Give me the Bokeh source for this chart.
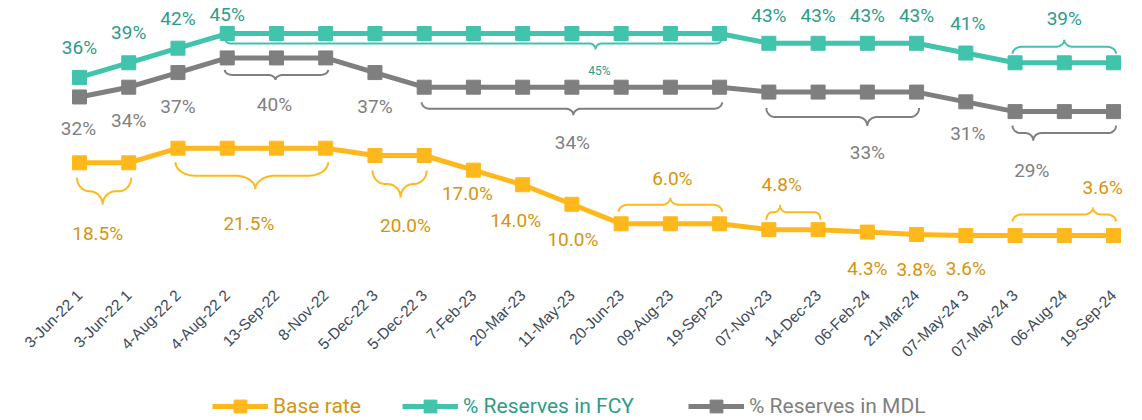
import numpy as np
from bokeh.plotting import figure
from bokeh.layouts import column
from bokeh.models import Range1d, FixedTicker, Legend, LegendItem
from bokeh.embed import file_html
from bokeh.resources import INLINE
from bokeh.core.properties import value

# ---------------- data ----------------
dates = ["3-Jun-22", "3-Jun-22", "4-Aug-22", "4-Aug-22", "13-Sep-22", "8-Nov-22",
         "5-Dec-22", "5-Dec-22", "7-Feb-23", "20-Mar-23", "11-May-23", "20-Jun-23",
         "09-Aug-23", "19-Sep-23", "07-Nov-23", "14-Dec-23", "06-Feb-24", "21-Mar-24",
         "07-May-24", "07-May-24", "06-Aug-24", "19-Sep-24"]
footnotes = ["1", "1", "2", "2", "", "", "3", "3", "", "", "", "", "", "", "", "", "", "",
             "3", "3", "", ""]
base_rate = [18.5, 18.5, 21.5, 21.5, 21.5, 21.5, 20.0, 20.0, 17.0, 14.0, 10.0, 6.0, 6.0, 6.0,
             4.8, 4.8, 4.3, 3.8, 3.6, 3.6, 3.6, 3.6]
res_fcy = [36, 39, 42, 45, 45, 45, 45, 45, 45, 45, 45, 45, 45, 45, 43, 43, 43, 43, 41, 39, 39, 39]
res_mdl = [32, 34, 37, 40, 40, 40, 37, 34, 34, 34, 34, 34, 34, 34, 33, 33, 33, 33, 31, 29, 29, 29]
series_names = ["Base rate", "% Reserves in FCY", "% Reserves in MDL"]

# ---------------- style ----------------
W, H = 1140, 378
ML, MR, MT, MB = 28, 8, 0, 95
LEG_H = 40
CAT_PX = 49.24          # px per category step
FIRST_PX = 51           # px from frame left to first category
Y_PX = 4.879            # px per percentage point
Y_TOP = 51.77

frame_w = W - ML - MR
frame_h = H - MT - MB
x_start = -FIRST_PX / CAT_PX
x_end = x_start + frame_w / CAT_PX
y_end = Y_TOP
y_start = Y_TOP - frame_h / Y_PX
sx, sy = CAT_PX, Y_PX

line_col = {"base": "#FFB81C", "fcy": "#41C3AC", "mdl": "#7F7F7F"}
text_col = {"base": "#D6940E", "fcy": "#2E9C88", "mdl": "#808080"}
series = {"base": base_rate, "fcy": res_fcy, "mdl": res_mdl}
fmt = {"base": "{:.1f}%", "fcy": "{:.0f}%", "mdl": "{:.0f}%"}
FONT = "Roboto"

# individual point labels: (series, index, dx px, dy px (screen down))
point_labels = [
    ("fcy", 0, 0, -30), ("fcy", 1, 0, -30), ("fcy", 2, 0, -30), ("fcy", 3, 0, -19),
    ("fcy", 14, 0, -28), ("fcy", 15, 0, -28), ("fcy", 16, 0, -28), ("fcy", 17, 0, -28),
    ("fcy", 18, 2, -30),
    ("mdl", 0, -1, 32), ("mdl", 1, 0, 33), ("mdl", 2, 0, 34), ("mdl", 6, 0, 34),
    ("mdl", 18, 2, 32),
    ("base", 8, -6, 23), ("base", 9, -7, 36), ("base", 10, 1, 35),
    ("base", 16, 0, 36), ("base", 17, 0, 35), ("base", 18, 0, 33),
]

# bracket groups: (series, i0, i1, dir(+1 down/-1 up), end_off, depth, tip_idx, r, label_idx, label_off, font px)
groups = [
    ("base", 0, 1, 1, 15, 27, 0.47, 13, 0.37, 71, 19),
    ("base", 2, 5, 1, 14, 27, 3.57, 20, 3.44, 75, 19),
    ("base", 6, 7, 1, 15, 27, 6.52, 13, 6.62, 70, 19),
    ("base", 11, 13, -1, 12, 14, 12.0, 9, 12.04, 45, 19),
    ("base", 14, 15, -1, 10, 15, 14.23, 6, 14.26, 45, 19),
    ("base", 19, 21, -1, 14, 14, 20.58, 9, 20.78, 48, 19),
    ("fcy", 3, 13, 1, 4, 12, 10.48, 6, 10.56, 37, 12),
    ("fcy", 19, 21, -1, 9, 14, 20.0, 9, 20.0, 44, 19),
    ("mdl", 3, 5, 1, 12, 10, 3.98, 8, 3.96, 47, 19),
    ("mdl", 7, 13, 1, 15, 13, 10.03, 8, 10.01, 55, 19),
    ("mdl", 14, 17, 1, 16, 18, 16.0, 9, 16.0, 60, 19),
    ("mdl", 19, 21, 1, 14, 15, 19.37, 8, 19.34, 59, 19),
]
BR_PAD = 0.05

# ---------------- main figure ----------------
p = figure(width=W, height=H, output_backend="svg", toolbar_location=None,
           x_range=Range1d(x_start, x_end), y_range=Range1d(y_start, y_end),
           y_axis_location=None, title=None,
           min_border_left=ML, min_border_right=MR, min_border_top=MT, min_border_bottom=MB)
p.outline_line_color = None
p.xgrid.grid_line_color = None
p.ygrid.grid_line_color = None
p.background_fill_color = "white"
p.border_fill_color = "white"

xa = p.xaxis[0]
xa.ticker = FixedTicker(ticks=list(range(len(dates))))
xa.major_label_overrides = {i: (d + " " + f if f else d)
                            for i, (d, f) in enumerate(zip(dates, footnotes))}
xa.major_label_orientation = np.pi / 4
xa.axis_line_color = None
xa.major_tick_line_color = None
xa.minor_tick_line_color = None
xa.major_tick_out = 0
xa.major_tick_in = 0
xa.major_label_standoff = 9
xa.major_label_text_font = "Liberation Sans"
xa.major_label_text_font_size = "15.5px"
xa.major_label_text_color = "#3D4A5C"


def brace_pts(val, i0, i1, tip, dirn, end_off, depth, r):
    Xa, Xb, Xt = (i0 - BR_PAD) * sx, (i1 + BR_PAD) * sx, tip * sx
    h = depth / 2.0
    r = min(r, (Xt - Xa) / 2.0, (Xb - Xt) / 2.0)
    th = np.linspace(0, np.pi / 2, 24)
    rt = th[::-1]
    xs = np.concatenate([Xa + r * (1 - np.cos(th)), Xt - r + r * np.sin(th),
                         Xt + r - r * np.sin(rt), Xb - r * (1 - np.cos(rt))])
    vs = np.concatenate([h * np.sin(th), h + h * (1 - np.cos(th)),
                         h + h * (1 - np.cos(rt)), h * np.sin(rt)])
    return list(xs / sx), list(val - dirn * (end_off + vs) / sy)


# brackets
for key in ["base", "fcy", "mdl"]:
    bx, by = [], []
    for g in groups:
        if g[0] != key:
            continue
        _, i0, i1, dirn, eo, dep, tip, r, li, lo, fs = g
        xx, yy = brace_pts(series[key][i0], i0, i1, tip, dirn, eo, dep, r)
        bx.append(xx)
        by.append(yy)
    p.multi_line(bx, by, line_color=line_col[key], line_width=2)

# lines + markers
xs_idx = list(range(len(dates)))
for key in ["base", "fcy", "mdl"]:
    p.line(xs_idx, series[key], line_color=line_col[key], line_width=5)
    p.scatter(xs_idx, series[key], marker="square", size=14,
              fill_color=line_col[key], line_color=line_col[key])

# point labels
for key in ["base", "fcy", "mdl"]:
    tx, ty, tt = [], [], []
    for (k, i, dx, dy) in point_labels:
        if k != key:
            continue
        v = series[key][i]
        tx.append(i + dx / sx)
        ty.append(v - dy / sy)
        tt.append(fmt[key].format(v))
    p.text(tx, ty, text=tt, text_align="center", text_baseline="middle",
           text_font=value(FONT), text_font_size="19px", text_color=text_col[key])

# group labels
for g in groups:
    key, i0, i1, dirn, eo, dep, tip, r, li, lo, fs = g
    v = series[key][i0]
    p.text([li], [v - dirn * lo / sy], text=[fmt[key].format(v)], text_align="center",
           text_baseline="middle", text_font=value(FONT), text_font_size=f"{fs}px",
           text_color=text_col[key])

# ---------------- legend strip ----------------
lf = figure(width=W, height=LEG_H, output_backend="svg", toolbar_location=None,
            x_range=Range1d(0, 1), y_range=Range1d(0, 1), x_axis_location=None,
            y_axis_location=None, title=None,
            min_border_left=0, min_border_right=0, min_border_top=0, min_border_bottom=0)
lf.outline_line_color = None
lf.xgrid.grid_line_color = None
lf.ygrid.grid_line_color = None

leg_x = {"base": 184, "fcy": 374, "mdl": 660}
for key, name in zip(["base", "fcy", "mdl"], series_names):
    # off-range proxies so the legend has glyphs to draw
    lr = lf.line([-5, -4], [-5, -5], line_color=line_col[key], line_width=5)
    sr = lf.scatter([-5], [-5], marker="square", size=14,
                    fill_color=line_col[key], line_color=line_col[key])
    lg = Legend(items=[LegendItem(label=name, renderers=[lr, sr])],
                location=(leg_x[key], -4), orientation="horizontal",
                border_line_color=None, background_fill_alpha=0, padding=0, margin=0,
                glyph_width=56, glyph_height=32, label_standoff=5,
                label_text_font=FONT, label_text_font_size="21px",
                label_text_color=text_col[key])
    lf.add_layout(lg, "center")

layout = column(p, lf, spacing=0)
open("out.html", "w").write(file_html(layout, INLINE))
